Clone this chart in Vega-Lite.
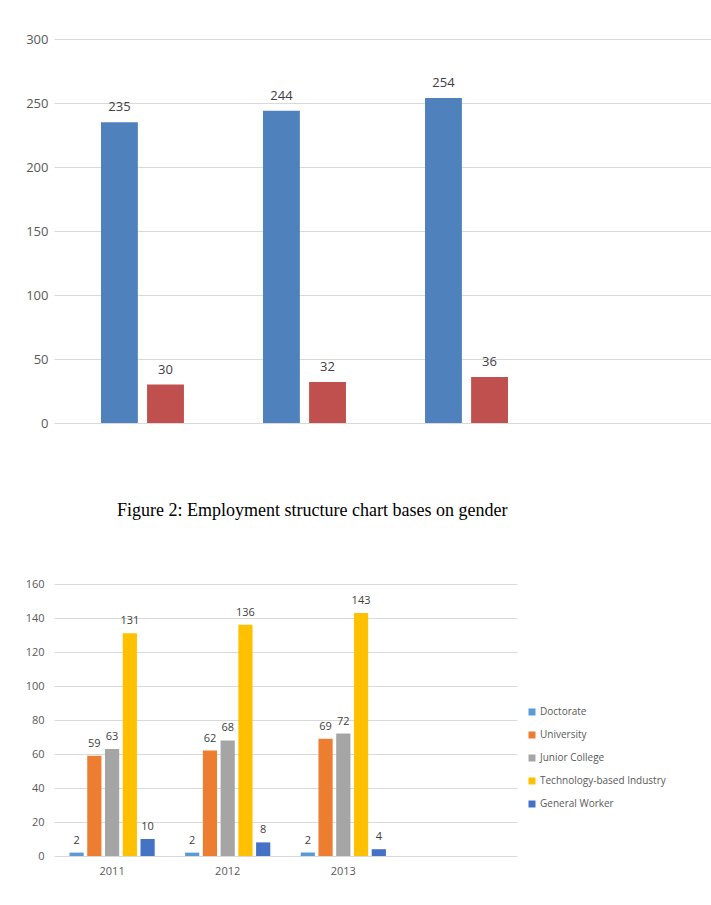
{
  "$schema": "https://vega.github.io/schema/vega-lite/v6.json",
  "background": "white",
  "padding": {"left": 25, "top": 33, "right": 0, "bottom": 0},
  "spacing": 72,
  "resolve": {"scale": {"color": "independent", "x": "independent", "xOffset": "independent", "y": "independent"}},
  "config": {"view": {"stroke": null}, "font": "Open Sans"},
  "vconcat": [
    {
      "width": 663,
      "height": 384,
      "data": {"values": [
        {"year": "2011", "gender": "Male", "count": 235},
        {"year": "2011", "gender": "Female", "count": 30},
        {"year": "2012", "gender": "Male", "count": 244},
        {"year": "2012", "gender": "Female", "count": 32},
        {"year": "2013", "gender": "Male", "count": 254},
        {"year": "2013", "gender": "Female", "count": 36}
      ]},
      "encoding": {
        "x": {"field": "year", "type": "nominal", "scale": {"domain": ["2011", "2012", "2013", " "], "paddingInner": 0.488, "paddingOuter": 0.29}, "axis": null},
        "xOffset": {"field": "gender", "type": "nominal", "scale": {"domain": ["Male", "Female"], "paddingInner": 0.2, "paddingOuter": 0}},
        "y": {"field": "count", "type": "quantitative", "scale": {"domain": [0, 300]},
          "axis": {"values": [0, 50, 100, 150, 200, 250, 300], "grid": true, "gridColor": "#d9d9d9", "domain": false, "ticks": false, "labelPadding": 6, "labelFontSize": 13, "labelColor": "#595959", "title": null}}
      },
      "layer": [
        {"mark": {"type": "bar"}, "encoding": {"color": {"field": "gender", "type": "nominal", "scale": {"domain": ["Male", "Female"], "range": ["#4F81BD", "#C0504D"]}, "legend": null}}},
        {"mark": {"type": "text", "baseline": "bottom", "dy": -8, "fontSize": 13, "color": "#404040"}, "encoding": {"text": {"field": "count", "type": "quantitative"}}}
      ]
    },
    {
      "width": 463,
      "height": 272,
      "title": {"text": "Figure 2: Employment structure chart bases on gender", "font": "Liberation Serif", "fontSize": 18, "fontWeight": "normal", "color": "black", "anchor": "start", "frame": "group", "dx": 63, "offset": 58},
      "data": {"values": [
        {"year": "2011", "level": "Doctorate", "count": 2},
        {"year": "2011", "level": "University", "count": 59},
        {"year": "2011", "level": "Junior College", "count": 63},
        {"year": "2011", "level": "Technology-based Industry", "count": 131},
        {"year": "2011", "level": "General Worker", "count": 10},
        {"year": "2012", "level": "Doctorate", "count": 2},
        {"year": "2012", "level": "University", "count": 62},
        {"year": "2012", "level": "Junior College", "count": 68},
        {"year": "2012", "level": "Technology-based Industry", "count": 136},
        {"year": "2012", "level": "General Worker", "count": 8},
        {"year": "2013", "level": "Doctorate", "count": 2},
        {"year": "2013", "level": "University", "count": 69},
        {"year": "2013", "level": "Junior College", "count": 72},
        {"year": "2013", "level": "Technology-based Industry", "count": 143},
        {"year": "2013", "level": "General Worker", "count": 4}
      ]},
      "encoding": {
        "x": {"field": "year", "type": "nominal", "scale": {"domain": ["2011", "2012", "2013", " "], "paddingInner": 0.263, "paddingOuter": 0.134},
          "axis": {"title": null, "domain": false, "ticks": false, "labelAngle": 0, "labelPadding": 9, "labelFontSize": 11, "labelColor": "#595959"}},
        "xOffset": {"field": "level", "type": "nominal", "scale": {"domain": ["Doctorate", "University", "Junior College", "Technology-based Industry", "General Worker"], "paddingInner": 0.2, "paddingOuter": 0}},
        "y": {"field": "count", "type": "quantitative", "scale": {"domain": [0, 160]},
          "axis": {"values": [0, 20, 40, 60, 80, 100, 120, 140, 160], "grid": true, "gridColor": "#d9d9d9", "domain": false, "ticks": false, "labelPadding": 10, "labelFontSize": 11, "labelColor": "#595959", "title": null}}
      },
      "layer": [
        {"mark": {"type": "bar"}, "encoding": {"color": {"field": "level", "type": "nominal",
          "scale": {"domain": ["Doctorate", "University", "Junior College", "Technology-based Industry", "General Worker"], "range": ["#5B9BD5", "#ED7D31", "#A5A5A5", "#FFC000", "#4472C4"]},
          "legend": {"orient": "none", "legendX": 473, "legendY": 123, "title": null, "symbolType": "square", "symbolSize": 49, "symbolStrokeWidth": 0, "labelFontSize": 10, "labelColor": "#595959", "rowPadding": 13, "labelOffset": 3}}}},
        {"mark": {"type": "text", "baseline": "bottom", "dy": -7, "fontSize": 11, "color": "#404040"}, "encoding": {"text": {"field": "count", "type": "quantitative"}}}
      ]
    }
  ]
}
